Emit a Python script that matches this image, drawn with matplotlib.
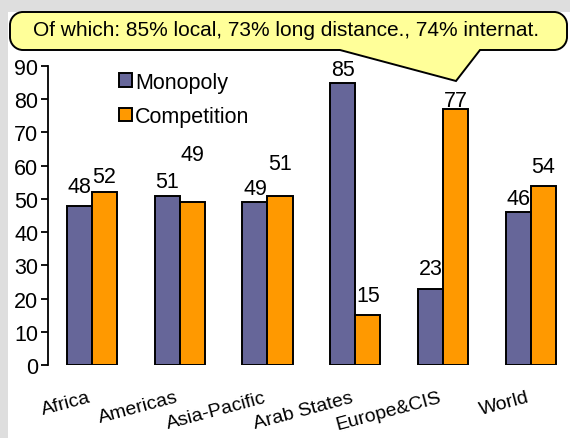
import matplotlib
matplotlib.use("Agg")
import matplotlib.pyplot as plt
import numpy as np
from matplotlib.path import Path
from matplotlib.patches import PathPatch, Rectangle

plt.rcParams['font.family'] = ['Liberation Sans', 'DejaVu Sans']

regions = ["Africa", "Americas", "Asia-Pacific", "Arab States", "Europe&CIS", "World"]
monopoly = [48, 51, 49, 85, 23, 46]
competition = [52, 49, 51, 15, 77, 54]
series_names = ["Monopoly", "Competition"]
y_ticks = [0, 10, 20, 30, 40, 50, 60, 70, 80, 90]
callout_text = "Of which: 85% local, 73% long distance., 74% internat."

# label lift above each bar top, in pixels
mono_lift = [19, 14, 14, 13, 20, 14]
comp_lift = [16, 48, 32, 20, 9, 19]

W, H, DPI = 570, 439, 100
fig = plt.figure(figsize=(W / DPI, H / DPI), dpi=DPI, facecolor="#dedede")

# white panel
fig.patches.append(Rectangle((8 / W, 0), 1, (H - 13) / H, transform=fig.transFigure,
                             facecolor="white", edgecolor="none", zorder=-5))

ax_left, ax_bottom = 48 / W, (H - 366) / H
ax_h = (366 - 67) / H
ax_w = 6 * 87.8 / W
ax = fig.add_axes([ax_left, ax_bottom, ax_w, ax_h])
ax.set_facecolor("none")

FS = 15.5
x = np.arange(len(regions))
bw = 0.285
c_mono, c_comp = "#666699", "#ff9900"
b1 = ax.bar(x - bw / 2, monopoly, bw, color=c_mono, edgecolor="black", linewidth=1.4,
            label=series_names[0], zorder=2)
b2 = ax.bar(x + bw / 2, competition, bw, color=c_comp, edgecolor="black", linewidth=1.4,
            label=series_names[1], zorder=2)

for xi, v, lift in zip(x - bw / 2, monopoly, mono_lift):
    ax.annotate(f"{v}", (xi, v), xytext=(0, lift * 72 / DPI), textcoords="offset points",
                ha="center", va="center", fontsize=FS)
for xi, v, lift in zip(x + bw / 2, competition, comp_lift):
    ax.annotate(f"{v}", (xi, v), xytext=(0, lift * 72 / DPI), textcoords="offset points",
                ha="center", va="center", fontsize=FS)

ax.set_xlim(-0.5, 5.5)
ax.set_ylim(0, 90)
ax.set_yticks(y_ticks)
ax.tick_params(axis="y", labelsize=FS, length=5, width=1.3, pad=2)
ax.set_xticks(x - 0.05)
ax.set_xticklabels(regions, rotation=15, ha="right", rotation_mode="anchor", fontsize=14)
ax.tick_params(axis="x", length=0, pad=17)
for s in ["top", "right", "bottom"]:
    ax.spines[s].set_visible(False)
ax.spines["left"].set_linewidth(1.3)

leg = ax.legend(loc="upper left", bbox_to_anchor=(0.118, 1.01), frameon=False, fontsize=FS,
                handlelength=0.6, handleheight=0.6, handletextpad=0.15, labelspacing=0.62,
                borderaxespad=0)

# speech-bubble callout, drawn in pixel coordinates
ov = fig.add_axes([0, 0, 1, 1], zorder=10)
ov.set_xlim(0, W)
ov.set_ylim(H, 0)
ov.axis("off")
ov.patch.set_visible(False)
L, R, T, B, r = 10, 567, 13, 51, 13
k = 0.5523 * r
verts = [
    (L + r, T), (R - r, T),
    (R - r + k, T), (R, T + r - k), (R, T + r),
    (R, B - r),
    (R, B - r + k), (R - r + k, B), (R - r, B),
    (480, B), (456, 82), (340, B), (L + r, B),
    (L + r - k, B), (L, B - r + k), (L, B - r),
    (L, T + r),
    (L, T + r - k), (L + r - k, T), (L + r, T),
    (L + r, T),
]
codes = [Path.MOVETO, Path.LINETO,
         Path.CURVE4, Path.CURVE4, Path.CURVE4,
         Path.LINETO,
         Path.CURVE4, Path.CURVE4, Path.CURVE4,
         Path.LINETO, Path.LINETO, Path.LINETO, Path.LINETO,
         Path.CURVE4, Path.CURVE4, Path.CURVE4,
         Path.LINETO,
         Path.CURVE4, Path.CURVE4, Path.CURVE4,
         Path.CLOSEPOLY]
ov.add_patch(PathPatch(Path(verts, codes), facecolor="#ffff99", edgecolor="black", linewidth=1.4))
ov.text(286, 31, callout_text, ha="center", va="center", fontsize=15)

fig.savefig("out.png", dpi=DPI, facecolor=fig.get_facecolor())
